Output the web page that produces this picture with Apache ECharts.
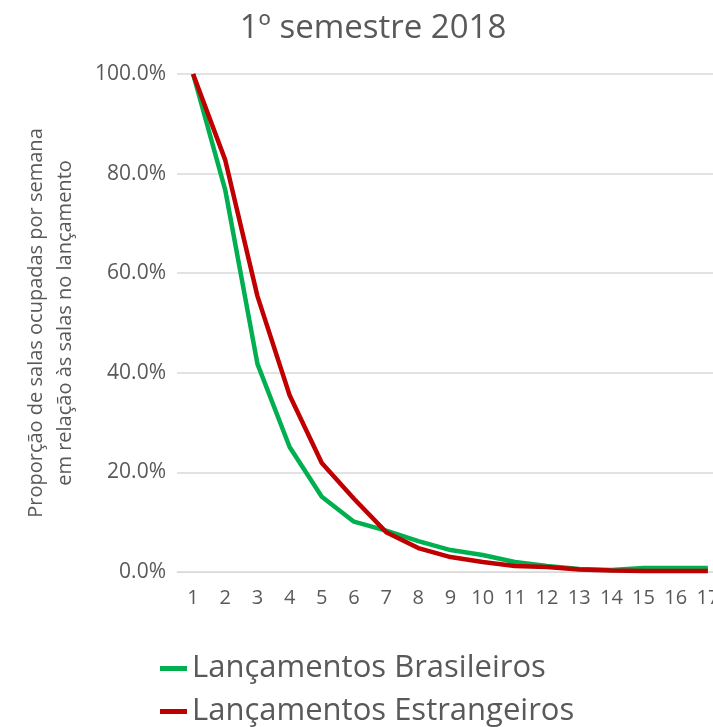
<!DOCTYPE html>
<html>
<head>
<meta charset="utf-8">
<script src="https://cdn.jsdelivr.net/npm/echarts@6/dist/echarts.min.js"></script>
<style>
  html, body { margin: 0; padding: 0; background: #fff; overflow: hidden; }
  /* o gráfico original é cortado na margem direita */
  #chart { width: 730px; height: 727px; }
</style>
</head>
<body>
<div id="chart"></div>
<script>
// semanas desde o lançamento
const weeks = ['1', '2', '3', '4', '5', '6', '7', '8', '9', '10', '11', '12', '13', '14', '15', '16', '17']
// proporção (%) de salas ocupadas
const brasileiros = [100, 76.7, 41.8, 25.1, 15.1, 10.1, 8.3, 6.2, 4.4, 3.4, 2.0, 1.2, 0.6, 0.4, 0.8, 0.8, 0.8]
const estrangeiros = [100, 82.7, 55.4, 35.5, 21.9, 14.7, 8.0, 4.8, 3.0, 2.0, 1.2, 1.0, 0.5, 0.3, 0.2, 0.2, 0.2]
const yTicks = [0, 20, 40, 60, 80, 100]

const font = 'Open Sans'
const gray = '#595959'

const chart = echarts.init(document.getElementById('chart'))

const legendBase = {
    left: 155,
    itemWidth: 27,
    itemHeight: 5,
    icon: 'rect',
    textStyle: { fontFamily: font, fontSize: 31, color: gray }
}

chart.setOption({
    animation: false,
    title: {
        text: '1º semestre 2018',
        left: 368,
        top: 7,
        textAlign: 'center',
        textStyle: { fontFamily: font, fontSize: 33, fontWeight: 'normal', color: gray }
    },
    legend: [
        { ...legendBase, top: 648, data: ['Lançamentos Brasileiros'] },
        { ...legendBase, top: 691, data: ['Lançamentos Estrangeiros'] }
    ],
    grid: {
        left: 177,
        top: 74,
        right: 6,
        height: 498
    },
    xAxis: {
        type: 'category',
        data: weeks,
        boundaryGap: true,
        axisLine: { lineStyle: { color: '#d9d9d9' } },
        axisTick: { show: false },
        axisLabel: { fontFamily: font, fontSize: 20, color: gray, margin: 16, interval: 0 }
    },
    yAxis: {
        type: 'value',
        min: 0,
        max: 100,
        interval: 20,
        name: 'Proporção de salas ocupadas por semana\nem relação às salas no lançamento',
        nameLocation: 'middle',
        nameGap: 97,
        nameTextStyle: { fontFamily: font, fontSize: 20, color: gray, lineHeight: 29 },
        axisLine: { show: false },
        axisTick: { show: false },
        splitLine: { lineStyle: { color: '#d9d9d9', width: 1.5 } },
        axisLabel: {
            fontFamily: font, fontSize: 21, color: gray, margin: 11,
            customValues: yTicks,
            formatter: v => v.toFixed(1) + '%'
        }
    },
    series: [
        {
            name: 'Lançamentos Brasileiros',
            type: 'line',
            data: brasileiros,
            symbol: 'none',
            color: '#00b050',
            lineStyle: { width: 4.5 }
        },
        {
            name: 'Lançamentos Estrangeiros',
            type: 'line',
            data: estrangeiros,
            symbol: 'none',
            color: '#c00000',
            lineStyle: { width: 4.5 }
        }
    ]
})
</script>
</body>
</html>
